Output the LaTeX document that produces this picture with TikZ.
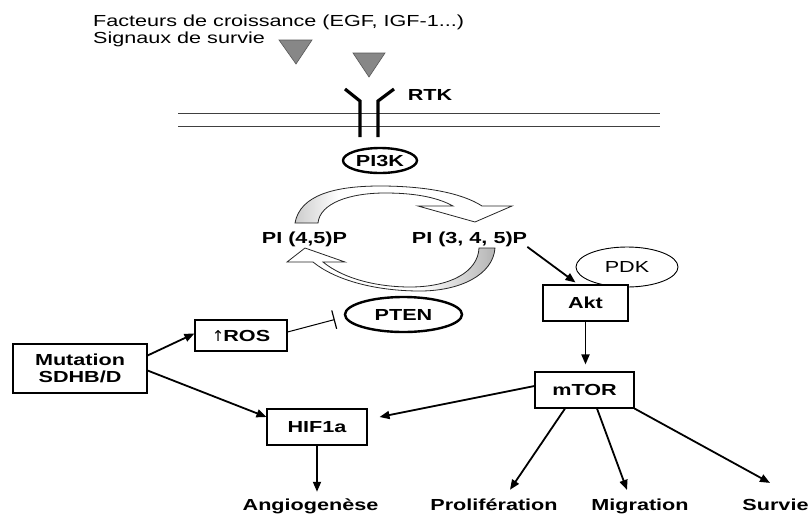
\documentclass[tikz,border=0pt]{standalone}
\usepackage{fontspec}
\setmainfont{Liberation Sans}[FakeStretch=1.35]
\newfontfamily\arrowfont{DejaVu Sans}
\usetikzlibrary{arrows.meta,calc,shapes.geometric}
\colorlet{cycfill}{black!28}
% fades for the two curved conversion arrows (grey tail, white head)
\pgfdeclarehorizontalshading{pifadeA}{100bp}{color(0bp)=(cycfill); color(21bp)=(cycfill); color(35bp)=(white); color(100bp)=(white)}
\pgfdeclarehorizontalshading{pifadeB}{100bp}{color(0bp)=(white); color(57bp)=(white); color(74bp)=(cycfill); color(100bp)=(cycfill)}

\begin{document}
\begin{tikzpicture}[x=1pt,y=-1pt,
  plain/.style={font=\fontsize{16}{17}\selectfont, inner sep=0pt},
  lbl/.style={font=\fontsize{16}{17}\selectfont\bfseries, inner sep=0pt, anchor=base},
  box/.style={draw, line width=1.1pt, fill=white, inner sep=0pt,
    font=\fontsize{16}{17}\selectfont\bfseries},
  oval/.style={ellipse, draw, line width=2.4pt, fill=white, inner sep=0pt,
    font=\fontsize{16}{17}\selectfont\bfseries},
  thinoval/.style={ellipse, draw, line width=0.9pt, fill=white, inner sep=0pt,
    font=\fontsize{16}{17}\selectfont},
  arr/.style={line width=1.8pt, -{Triangle[length=10pt,width=8pt]}},
  inh/.style={line width=1pt, -{Bar[width=19pt,line width=1.2pt]}},
  memb/.style={line width=1pt, black!75},
  rtkarm/.style={line width=3.2pt},
  ligand/.style={fill=black!47, draw=black!65, line width=0.6pt},
  cyc/.style={draw=black!85, line width=0.8pt}
]
\useasboundingbox (0,0) rectangle (812,515);

% ligands
\node[plain, anchor=base west] (fac) at (93,26) {Facteurs de croissance (EGF, IGF-1...)};
\node[plain, anchor=base west] (sig) at (93,43) {Signaux de survie};
\path[ligand] (279,40) -- (312,40) -- (296,64) -- cycle;
\path[ligand] (353,53) -- (385,53) -- (369,77) -- cycle;

% membrane and receptor
\draw[memb] (178,113) -- (660,113);
\draw[memb] (178,126) -- (660,126);
\draw[rtkarm] (345,89) -- (360,101) -- (360,137);
\draw[rtkarm] (394,89) -- (378,101) -- (378,137);
\node[lbl] (rtk) at (430,100) {RTK};

\node[oval, minimum width=74pt, minimum height=25pt] (pi3k) at (380,160.5) {PI3K};

% phosphoinositide cycle
\path[cyc, shading=pifadeA]
  (295,223) .. controls (300,195) and (335,186) .. (380,186)
  .. controls (425,186) and (462,193) .. (482,206)
  -- (512,206) -- (475,222) -- (418,206) -- (453,206)
  .. controls (435,196) and (410,193) .. (385,193)
  .. controls (350,193) and (320,203) .. (318,223) -- cycle;
\path[cyc, shading=pifadeB]
  (495,248) .. controls (493,275) and (460,291) .. (420,291)
  .. controls (375,291) and (335,280) .. (313,262)
  -- (287,262) -- (305,248) -- (345,262) -- (323,262)
  .. controls (345,280) and (380,287) .. (410,287)
  .. controls (450,287) and (478,272) .. (479,248) -- cycle;

\node[lbl] (pi45) at (304.5,243) {PI (4,5)P};
\node[lbl] (pi345) at (469.5,243) {PI (3, 4, 5)P};
\node[oval, minimum width=117pt, minimum height=35pt] (pten) at (403.5,314.5) {PTEN};

% downstream nodes
\node[thinoval, minimum width=102pt, minimum height=40pt] (pdk) at (627,267) {PDK};
\node[box, minimum width=85pt, minimum height=36pt] (akt) at (585.5,303) {Akt};
\node[box, minimum width=99pt, minimum height=36pt] (mtor) at (584.5,390) {mTOR};
\node[box, minimum width=92pt, minimum height=31pt] (ros) at (241,335.5) {{\arrowfont\mdseries\fontsize{15}{17}\selectfont ↑}\kern-1pt ROS};
\node[box, minimum width=134pt, minimum height=49pt, align=center] (mut) at (80,368.5) {Mutation\\SDHB/D};
\node[box, minimum width=100pt, minimum height=36pt] (hif) at (317,427) {HIF1a};

% outcomes
\node[lbl] (angio) at (310.5,510.7) {Angiogenèse};
\node[lbl] (prolif) at (494,510.7) {Prolifération};
\node[lbl] (migr) at (640,510.7) {Migration};
\node[lbl] (surv) at (775.5,510.7) {Survie};

% connectors
\draw[arr] ([yshift=-8pt]pi345.east) -- ([xshift=-10pt,yshift=2pt]akt.north);
\draw[arr, shorten >=7pt] (akt.south) -- (akt.south |- mtor.north);
\draw[arr] ([yshift=13pt]mut.east) -- ([yshift=2pt]ros.west);
\draw[arr] ([yshift=-2pt]mut.east) -- ([yshift=10pt]hif.west);
\draw[inh] ([yshift=3.5pt]ros.east) -- ([xshift=-9pt,yshift=-5pt]pten.west);
\draw[arr, shorten >=7pt] (hif.south) -- (hif.south |- angio.north);
\draw[arr] ([yshift=4pt]mtor.west) -- ([xshift=12pt,yshift=10pt]hif.east);
\draw[arr] ([xshift=-19.5pt]mtor.south) -- ([xshift=16pt,yshift=9pt]prolif.north);
\draw[arr] ([xshift=12.5pt]mtor.south) -- ([xshift=-13pt,yshift=9pt]migr.north);
\draw[arr] (mtor.south east) -- ([xshift=-5.5pt,yshift=16pt]surv.north);
\end{tikzpicture}
\end{document}
